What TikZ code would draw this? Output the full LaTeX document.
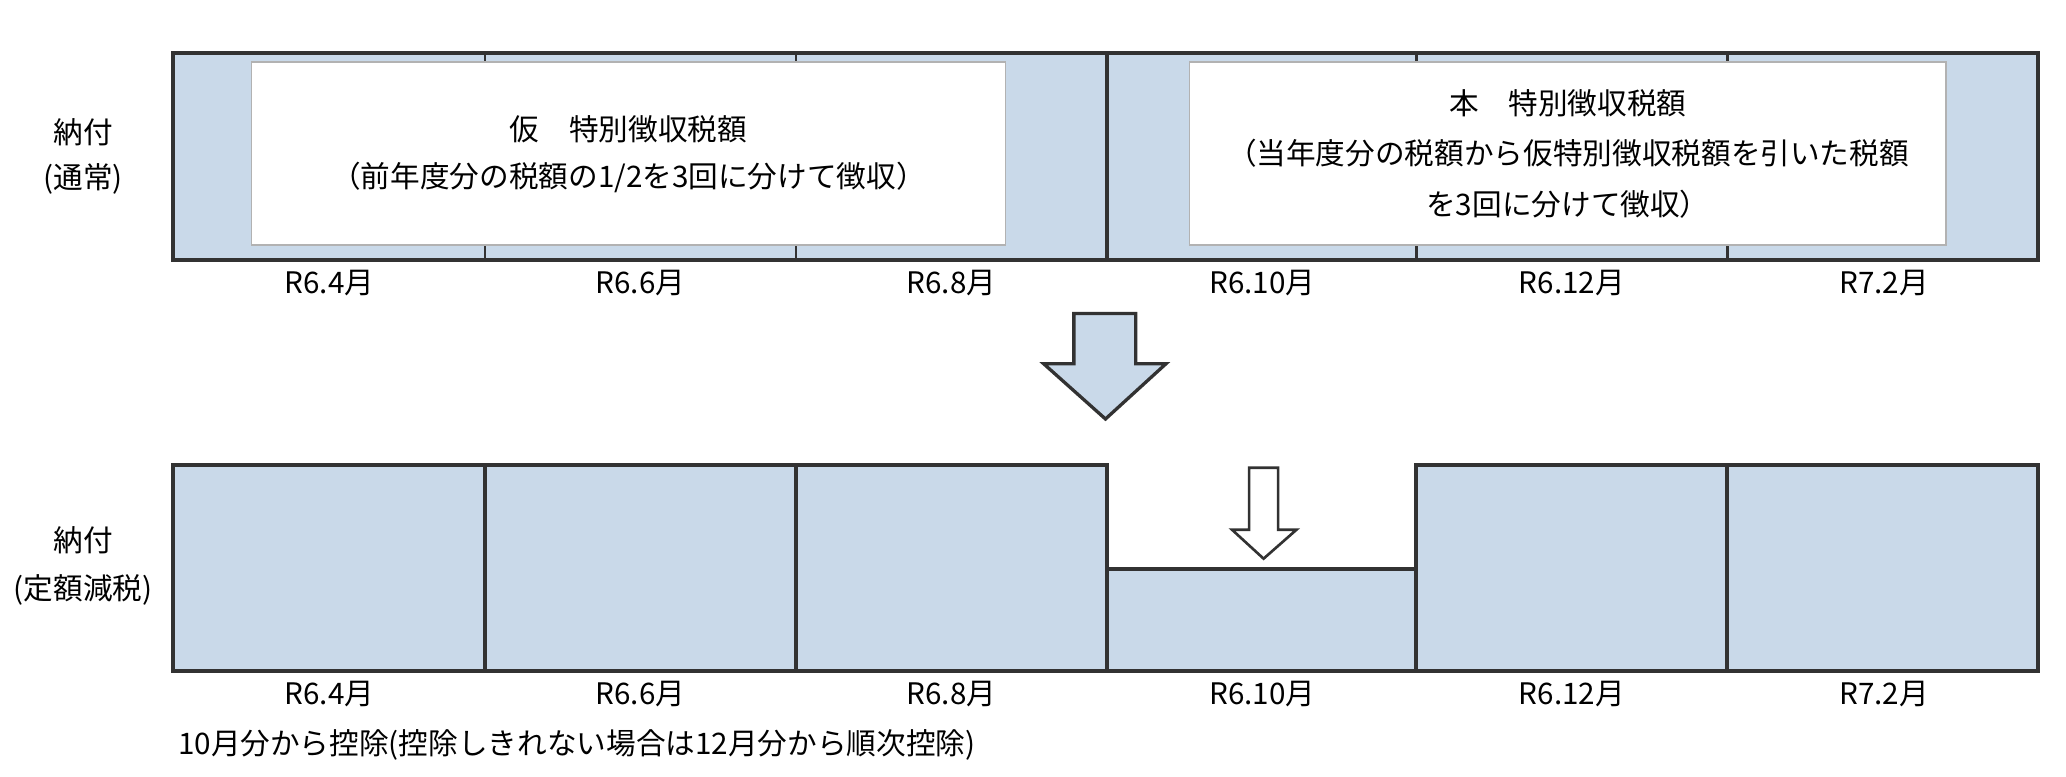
\documentclass[tikz,border=0pt]{standalone}
\usepackage{fontspec}
\setmainfont{Noto Sans CJK JP}
\usetikzlibrary{positioning}
\definecolor{paleblue}{RGB}{201,217,233}
\definecolor{edge}{RGB}{50,50,50}
\tikzset{
 bar/.style={fill=paleblue,draw=edge,line width=3pt},
 sep/.style={draw=edge,line width=2pt},
 memo/.style={fill=white,draw=gray!60,line width=1pt},
 txt/.style={font=\fontsize{22.5}{30}\selectfont,inner sep=0pt},
 arrowbody/.style={draw=edge,line width=2.5pt,line join=miter}
}
\begin{document}
\begin{tikzpicture}[x=1pt,y=-1pt]
 \useasboundingbox (0,0) rectangle (1568,589);
 % upper row
 \draw[bar] (131,40) rectangle (1547,197);
 \foreach \x in {368,604,1075,1311}
   \draw[sep] (\x,40) -- (\x,197);
 \draw[sep,line width=3pt] (840,40) -- (840,197);
 \draw[memo] (191,47) rectangle (763,186);
 \draw[memo] (903,47) rectangle (1477,186);
 \node[txt] (karitop) at (477,98) {仮\quad 特別徴収税額};
 \node[txt] (karibot) at (477,135) {（前年度分の税額の1/2を3回に分けて徴収）};
 \node[txt] (hontop) at (1190,78) {本\quad 特別徴収税額};
 \node[txt] (honmid) at (1190,116) {（当年度分の税額から仮特別徴収税額を引いた税額};
 \node[txt] (honbot) at (1190,155) {を3回に分けて徴収）};
 \node[txt] (paya) at (63,100) {納付};
 \node[txt] (payb) at (63,136) {(通常)};
 % big arrow
 \draw[arrowbody,fill=paleblue] (815,238) -- (862,238) -- (862,276) -- (885,276)
   -- (839,318) -- (792,276) -- (815,276) -- cycle;
 % lower row
 \draw[bar] (131,353) -- (840,353) -- (840,432) -- (1075,432) -- (1075,353)
   -- (1547,353) -- (1547,509) -- (131,509) -- cycle;
 \foreach \x in {368,604,840,1075,1311}
   \draw[sep,line width=3pt] (\x,353) -- (\x,509);
 \draw[sep,line width=3pt] (840,353) -- (840,432) -- (1075,432) -- (1075,353);
 \draw[arrowbody,line width=2pt,fill=white] (948,355) -- (970,355) -- (970,402) -- (984,402)
   -- (959,424) -- (935,402) -- (948,402) -- cycle;
 \node[txt] (payc) at (63,410) {納付};
 \node[txt] (payd) at (63,448) {(定額減税)};
 % month labels
 \foreach \x/\m [count=\i] in {250/R6.4月,486/R6.6月,722/R6.8月,958/R6.10月,1193/R6.12月,1430/R7.2月}{
   \node[txt] (upm\i) at (\x,215) {\m};
   \node[txt] (lowm\i) at (\x,527) {\m};
 }
 \node[txt,anchor=west] (note) at (135,565) {10月分から控除(控除しきれない場合は12月分から順次控除)};
\end{tikzpicture}
\end{document}
